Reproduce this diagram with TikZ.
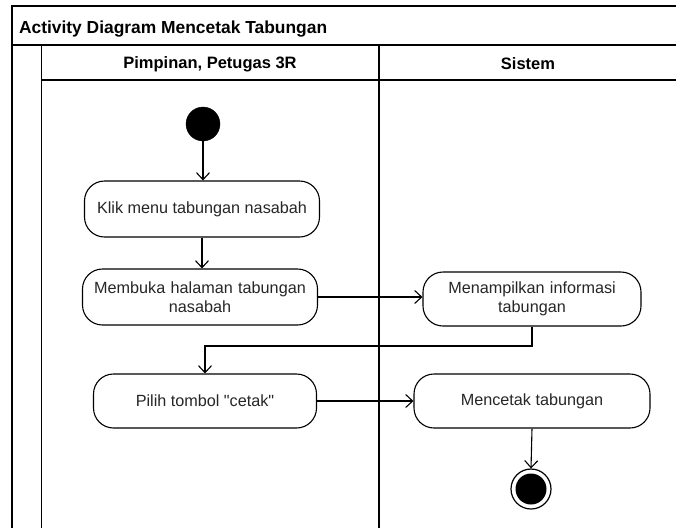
\documentclass[tikz,border=0pt]{standalone}
\usepackage{fontspec}
\setmainfont{Liberation Sans}
\usetikzlibrary{arrows.meta,calc}

\tikzset{
  lane/.style={line width=1.3pt, draw=black},
  action/.style={draw=black, line width=1.1pt, rounded corners=20pt, fill=white,
    align=center, inner sep=2pt, font=\fontsize{16.2}{19}\selectfont, text=black!85},
  flow/.style={line width=1.1pt, -{Straight Barb[length=7pt,width=13pt,line width=1.1pt]}},
  startnode/.style={circle, fill=black, draw=black, minimum size=34pt, inner sep=0pt},
  endnode/.style={circle, draw=black, line width=1.2pt, minimum size=40pt, inner sep=0pt,
    path picture={\fill[black] (path picture bounding box.center) circle (15.5pt);}},
  headtext/.style={font=\bfseries\fontsize{16.5}{19}\selectfont},
}

\begin{document}
\begin{tikzpicture}[x=1pt, y=-1pt]
\useasboundingbox (0,0) rectangle (676,528);

% pool frame and swimlanes
\draw[lane] (676,6) -- (12,6) -- (12,528);
\draw[lane] (12,45) -- (676,45);
\draw[lane] (41.5,45) -- (41.5,528);
\draw[lane] (41.5,80) -- (676,80);
\draw[lane] (379,45) -- (379,528);

\node[headtext, font=\bfseries\fontsize{17.4}{20}\selectfont, anchor=west] (title) at (15.5,29) {Activity Diagram Mencetak Tabungan};
\node[headtext] (laneA) at (210,64) {Pimpinan, Petugas 3R};
\node[headtext] (laneB) at (528,64) {Sistem};

% actions
\node[startnode] (start) at (203,124) {};
\node[action, minimum width=235pt, minimum height=56pt] (klik) at (202,209) {Klik menu tabungan nasabah};
\node[action, minimum width=235pt, minimum height=56pt, text width=225pt] (buka) at (200,297) {Membuka halaman tabungan\\nasabah};
\node[action, minimum width=218pt, minimum height=54pt, text width=205pt] (tampil) at (532,299) {Menampilkan informasi\\tabungan};
\node[action, minimum width=223pt, minimum height=54pt] (pilih) at (205,401) {Pilih tombol \textquotedbl cetak\textquotedbl};
\node[action, minimum width=236pt, minimum height=54pt] (cetak) at (532,401) {Mencetak tabungan};
\node[endnode] (finish) at (531,489) {};

% control flow
\draw[flow] (start) -- (start |- klik.north);
\draw[flow] (klik.south) -- (klik.south |- buka.north);
\draw[flow] (buka.east) -- (tampil.west |- buka.east);
\coordinate (turn) at (400,346);
\draw[flow] (tampil.south) |- (turn) -| (pilih.north);
\draw[flow] (pilih.east) -- (cetak.west);
\draw[flow] (cetak.south) -- (finish.north);
\end{tikzpicture}
\end{document}
